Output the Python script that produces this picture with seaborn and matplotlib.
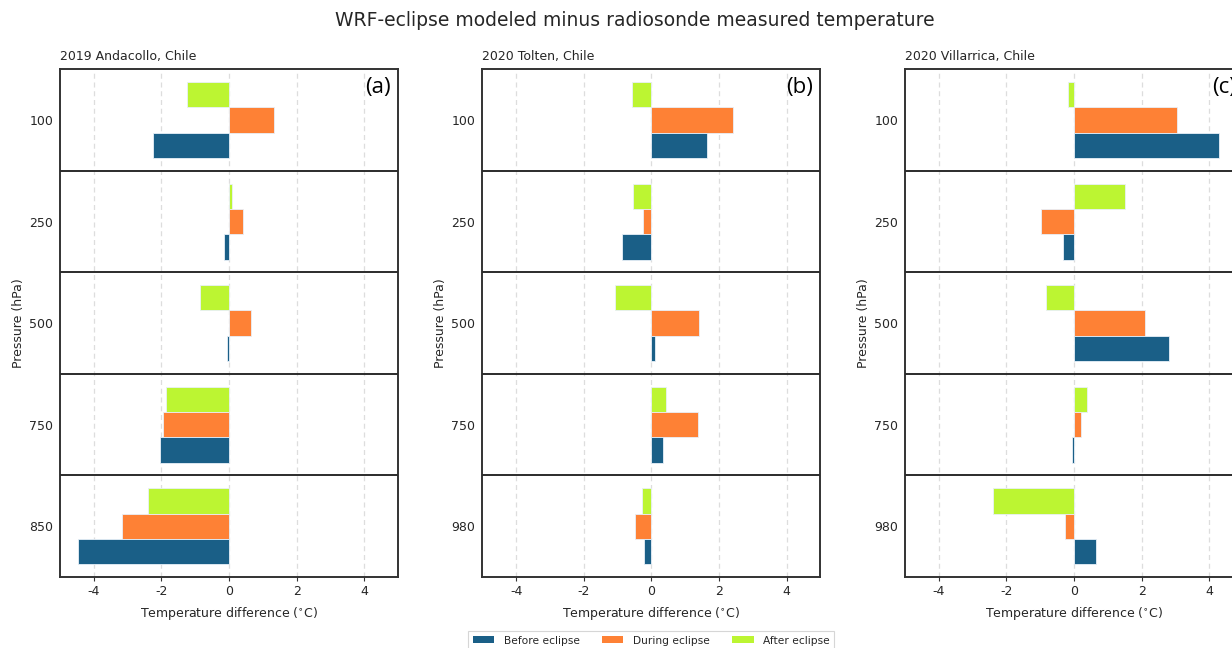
import matplotlib
matplotlib.use("Agg")
import matplotlib.pyplot as plt
import seaborn as sns
import pandas as pd
from matplotlib.patches import Patch

# ---------------- data ----------------
panel_titles = ["2019 Andacollo, Chile", "2020 Tolten, Chile", "2020 Villarrica, Chile"]
panel_letters = ["(a)", "(b)", "(c)"]
levels_a = ["100", "250", "500", "750", "850"]
levels_b = ["100", "250", "500", "750", "980"]
levels_c = ["100", "250", "500", "750", "980"]
series = ["Before eclipse", "During eclipse", "After eclipse"]

before_a = [-2.25, -0.14, -0.06, -2.03, -4.47]
during_a = [1.33, 0.41, 0.64, -1.94, -3.18]
after_a = [-1.23, 0.09, -0.85, -1.87, -2.39]

before_b = [1.65, -0.87, 0.12, 0.35, -0.21]
during_b = [2.42, -0.25, 1.42, 1.37, -0.47]
after_b = [-0.56, -0.55, -1.06, 0.43, -0.27]

before_c = [4.30, -0.33, 2.81, -0.05, 0.64]
during_c = [3.05, -0.99, 2.10, 0.22, -0.27]
after_c = [-0.18, 1.51, -0.82, 0.38, -2.41]

colors = {"Before eclipse": "#1a5f87", "During eclipse": "#fe8135", "After eclipse": "#bcf532"}
xticks = [-4, -2, 0, 2, 4]

panels = [
    (levels_a, before_a, during_a, after_a),
    (levels_b, before_b, during_b, after_b),
    (levels_c, before_c, during_c, after_c),
]

# ---------------- figure ----------------
sns.set_theme(style="white")
plt.rcParams["font.family"] = ["DejaVu Sans"]
txt = "#262626"
fs = 9
W, H = 1232, 648
fig = plt.figure(figsize=(W / 100, H / 100), dpi=100)

lefts = [60, 482.3, 905]
ax_w = 338
ax_top, ax_bot = 69.3, 577

for i, (levels, bef, dur, aft) in enumerate(panels):
    rows = []
    for lev, b, d, a in zip(levels, bef, dur, aft):
        rows.append({"level": lev, "series": "Before eclipse", "value": b})
        rows.append({"level": lev, "series": "During eclipse", "value": d})
        rows.append({"level": lev, "series": "After eclipse", "value": a})
    df = pd.DataFrame(rows)

    ax = fig.add_axes([lefts[i] / W, 1 - ax_bot / H, ax_w / W, (ax_bot - ax_top) / H])
    sns.barplot(data=df, y="level", x="value", hue="series", order=levels,
                hue_order=["After eclipse", "During eclipse", "Before eclipse"],
                palette=colors, orient="h", width=0.75, ax=ax,
                edgecolor="#e8f0f8", linewidth=0.6, saturation=1, legend=False)
    ax.set_xlim(-5, 5)
    ax.set_ylim(len(levels) - 0.5, -0.5)
    ax.set_xticks(xticks)
    ax.set_xticklabels([str(t) for t in xticks])
    for t in xticks:
        ax.axvline(t, color="#dddddd", lw=0.9, ls=(0, (4, 3)), zorder=0)
    for k in range(1, len(levels)):
        ax.axhline(k - 0.5, color="#2b2b2b", lw=1.4, zorder=3)
    for s in ax.spines.values():
        s.set_color("#333333")
        s.set_linewidth(1.4)
        s.set_visible(True)
    ax.tick_params(axis="x", length=3, width=0.8, color="#333333", labelsize=fs,
                   labelcolor=txt, pad=3, direction="out", bottom=True)
    ax.tick_params(axis="y", length=0, labelsize=fs, labelcolor=txt, pad=5)
    ax.set_xlabel("Temperature difference ($^{\\circ}$C)", fontsize=fs, color=txt, labelpad=5)
    ax.set_ylabel("Pressure (hPa)", fontsize=fs, color=txt, labelpad=3)
    ax.set_title(panel_titles[i], loc="left", fontsize=fs, color=txt, pad=7)
    ax.text(0.978, 0.985, panel_letters[i],
            transform=ax.transAxes, ha="right", va="top", fontsize=16,
            family=["Open Sans", "DejaVu Sans"], color="black")

fig.text(635 / W, 1 - 21 / H, "WRF-eclipse modeled minus radiosonde measured temperature",
         fontsize=13.5, color=txt, ha="center", va="center")

handles = [Patch(facecolor=colors[s], edgecolor="none") for s in series]
leg = fig.legend(handles, series, loc="upper center",
                 bbox_to_anchor=((482.3 + ax_w / 2) / W, 1 - 626 / H),
                 ncol=3, fontsize=7.7, frameon=True, handlelength=2.0, handleheight=0.6,
                 handletextpad=0.9, columnspacing=2.1, borderpad=0.4, fancybox=False)
leg.get_frame().set_edgecolor("#cccccc")
leg.get_frame().set_linewidth(0.8)
for t in leg.get_texts():
    t.set_color(txt)

fig.savefig("out.png", dpi=100)
